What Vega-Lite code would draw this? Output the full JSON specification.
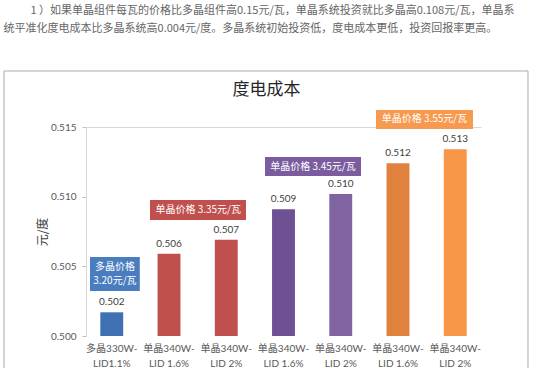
{
  "$schema": "https://vega.github.io/schema/vega-lite/v6.json",
  "width": 395,
  "height": 209,
  "autosize": {"type": "none"},
  "padding": {"left": 86, "top": 127, "right": 69, "bottom": 32},
  "background": "white",
  "config": {"view": {"stroke": null}, "axis": {"grid": false}},
  "title": {
    "text": ["\u200b\u3000\u3000\u00a0\u00a01 ）如果单晶组件每瓦的价格比多晶组件高0.15元/瓦，单晶系统投资就比多晶高0.108元/瓦，单晶系", "统平准化度电成本比多晶系统高0.004元/度。多晶系统初始投资低，度电成本更低，投资回报率更高。"],
    "anchor": "start",
    "frame": "bounds",
    "font": "Noto Sans CJK SC",
    "fontSize": 11,
    "fontWeight": "normal",
    "color": "#666666",
    "lineHeight": 18,
    "offset": 36
  },
  "datasets": {
    "bars": [
      {"cat": "c1", "label": "多晶330W-\nLID1.1%", "cost": 0.5017},
      {"cat": "c2", "label": "单晶340W-\nLID 1.6%", "cost": 0.5059},
      {"cat": "c3", "label": "单晶340W-\nLID 2%", "cost": 0.5069},
      {"cat": "c4", "label": "单晶340W-\nLID 1.6%", "cost": 0.5091},
      {"cat": "c5", "label": "单晶340W-\nLID 2%", "cost": 0.5102},
      {"cat": "c6", "label": "单晶340W-\nLID 1.6%", "cost": 0.5124},
      {"cat": "c7", "label": "单晶340W-\nLID 2%", "cost": 0.5134}
    ],
    "notes": [
      {"price": "3.20", "text": "多晶价格\n3.20元/瓦", "x": 0.62, "x2": 1.49, "y": 0.50567, "y2": 0.50323, "tx": 1.055, "ty": 0.50492},
      {"price": "3.35", "text": "单晶价格 3.35元/瓦", "x": 1.668, "x2": 3.345, "y": 0.50976, "y2": 0.50833, "tx": 2.51, "ty": 0.50904},
      {"price": "3.45", "text": "单晶价格 3.45元/瓦", "x": 3.677, "x2": 5.354, "y": 0.51285, "y2": 0.51148, "tx": 4.515, "ty": 0.51216},
      {"price": "3.55", "text": "单晶价格 3.55元/瓦", "x": 5.616, "x2": 7.31, "y": 0.51622, "y2": 0.51486, "tx": 6.463, "ty": 0.51554}
    ],
    "frame": [
      {"x": -0.882, "x2": 8.271, "y": 0.51902, "y2": 0.4972, "title": "度电成本", "tx": 3.703, "ty": 0.51769}
    ]
  },
  "layer": [
    {
      "layer": [
        {
          "data": {"name": "frame"},
          "mark": {"type": "rect", "fill": "transparent", "stroke": "#ababab", "strokeWidth": 1},
          "encoding": {
            "x": {"field": "x", "type": "quantitative", "scale": {"domain": [0.55, 7.45], "nice": false, "zero": false}, "axis": null},
            "x2": {"field": "x2"},
            "y": {"field": "y", "type": "quantitative", "title": "元/度", "scale": {"domain": [0.5, 0.515], "nice": false, "zero": false}},
            "y2": {"field": "y2"}
          }
        },
        {
          "data": {"name": "frame"},
          "mark": {"type": "text", "font": "Noto Sans CJK SC", "fontSize": 17, "color": "#262626", "align": "center", "baseline": "middle"},
          "encoding": {
            "x": {"field": "tx", "type": "quantitative"},
            "y": {"field": "ty", "type": "quantitative", "title": "元/度"},
            "text": {"field": "title"}
          }
        },
        {
          "data": {"name": "notes"},
          "mark": {"type": "rect"},
          "encoding": {
            "x": {"field": "x", "type": "quantitative"},
            "x2": {"field": "x2"},
            "y": {"field": "y", "type": "quantitative", "title": "元/度"},
            "y2": {"field": "y2"},
            "color": {"field": "price", "type": "nominal", "legend": null, "scale": {"domain": ["3.20", "3.35", "3.45", "3.55"], "range": ["#4a7dc0", "#c0504d", "#7b5c9f", "#f79a50"]}}
          }
        },
        {
          "data": {"name": "notes"},
          "mark": {"type": "text", "font": "Noto Sans CJK SC", "fontSize": 10, "color": "white", "align": "center", "baseline": "middle", "lineBreak": "\n", "lineHeight": 14},
          "encoding": {
            "x": {"field": "tx", "type": "quantitative"},
            "y": {"field": "ty", "type": "quantitative", "title": "元/度"},
            "text": {"field": "text"}
          }
        }
      ]
    },
    {
      "data": {"name": "bars"},
      "layer": [
        {
          "mark": {"type": "bar"},
          "encoding": {
            "x": {"field": "cat", "type": "nominal", "sort": null, "scale": {"paddingInner": 0.6, "paddingOuter": 0.25},
                  "axis": {"labels": false, "ticks": false, "title": null, "domainColor": "#d9d9d9"}},
            "y": {"field": "cost", "type": "quantitative", "stack": null, "title": "元/度",
                  "scale": {"domain": [0.5, 0.515], "nice": false, "zero": false},
                  "axis": {"values": [0.5, 0.505, 0.51, 0.515], "format": ".3f", "labelFont": "Lato", "labelFontSize": 10, "labelColor": "#595959", "labelPadding": 6, "tickSize": 4, "tickColor": "#bfbfbf", "domainColor": "#d9d9d9", "titleFont": "Noto Sans CJK SC", "titleFontSize": 12, "titleFontWeight": "normal", "titleColor": "#404040", "titlePadding": 1}},
            "color": {"field": "cat", "type": "nominal", "legend": null, "scale": {"domain": ["c1", "c2", "c3", "c4", "c5", "c6", "c7"], "range": ["#3f70b3", "#c0504d", "#c0504d", "#6e5095", "#8064a2", "#e0823e", "#f79646"]}}
          }
        },
        {
          "mark": {"type": "text", "font": "Lato", "fontSize": 10, "color": "#404040", "baseline": "bottom", "dy": -5},
          "encoding": {
            "x": {"field": "cat", "type": "nominal", "sort": null},
            "y": {"field": "cost", "type": "quantitative", "title": "元/度"},
            "text": {"field": "cost", "type": "quantitative", "format": ".3f"}
          }
        },
        {
          "mark": {"type": "text", "font": "Lato, Noto Sans CJK SC", "fontSize": 10, "color": "#595959", "baseline": "top", "dy": 8, "lineBreak": "\n", "lineHeight": 15},
          "encoding": {
            "x": {"field": "cat", "type": "nominal", "sort": null},
            "y": {"datum": 0.5, "type": "quantitative"},
            "text": {"field": "label"}
          }
        }
      ]
    }
  ],
  "resolve": {"scale": {"x": "independent", "color": "independent"}}
}
